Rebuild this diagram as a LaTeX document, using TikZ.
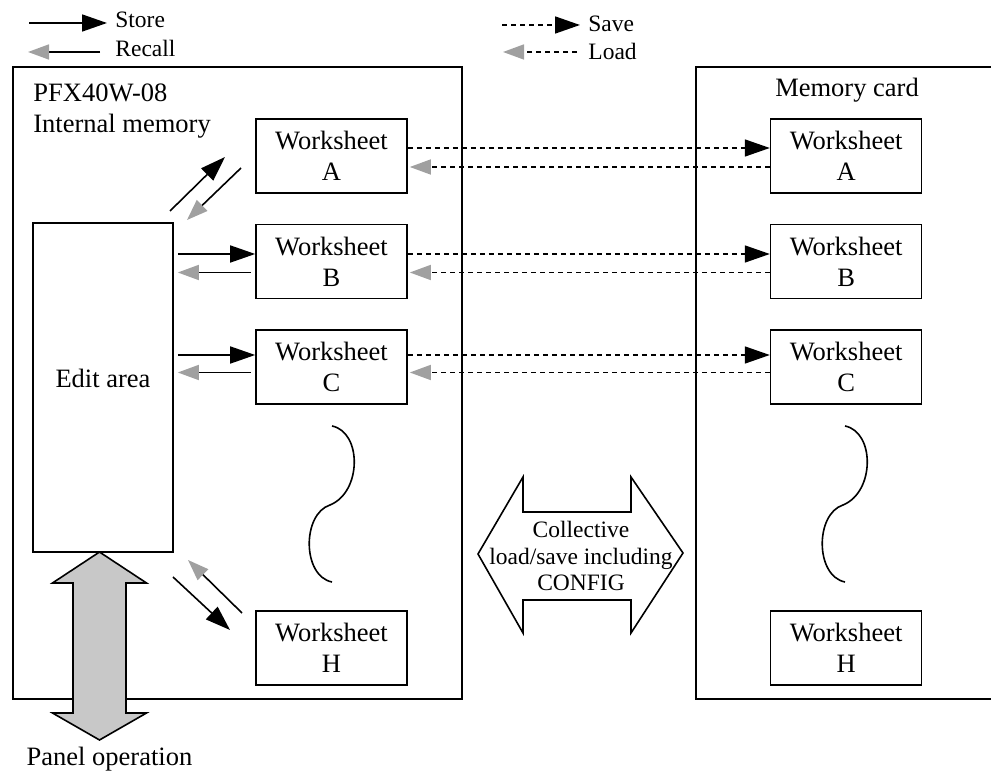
\documentclass[tikz,border=0pt]{standalone}
\usepackage{fontspec}
\setmainfont{Liberation Serif}
\usepackage{tikz}
\usetikzlibrary{positioning,arrows.meta}
\definecolor{stipple}{RGB}{160,160,160}
\definecolor{panelfill}{RGB}{200,200,200}
\def\mainfnt{\fontsize{13.25}{15.5}\selectfont}
\def\keyfnt{\fontsize{11.75}{13.25}\selectfont}
\tikzset{wsbox/.style={rectangle, draw, line width=0.8pt, minimum width=75.5pt,
  minimum height=37pt, inner sep=0pt, align=center, font=\mainfnt}}
\tikzset{editbox/.style={rectangle, draw, line width=0.8pt, minimum width=70pt,
  minimum height=164.5pt}}
\tikzset{outerframe/.style={line width=1.3pt}}
\tikzset{store/.style={-{Triangle[length=12.5pt,width=8.5pt]}, line width=0.8pt}}
\tikzset{recall/.style={-{Triangle[length=10.5pt,width=7.5pt,color=stipple]}, line width=0.8pt}}
\tikzset{save/.style={store, dash pattern=on 2.5pt off 2pt}}
\tikzset{load/.style={recall, dash pattern=on 2.5pt off 2pt}}
\begin{document}
\begin{tikzpicture}[x=0.5pt, y=-0.5pt, font=\mainfnt, node distance=15pt]
  \useasboundingbox (0,0) rectangle (991,774);
  % legend
  \coordinate (keyS) at (29,23);
  \coordinate (keyR) at (28,52);
  \coordinate (keyV) at (502,25);
  \coordinate (keyL) at (503,52);
  \node[font=\keyfnt, anchor=base west, inner sep=0pt] (keystore) at (115,28) {Store};
  \node[font=\keyfnt, anchor=base west, inner sep=0pt] (keyrecall) at (115,57) {Recall};
  \node[font=\keyfnt, anchor=base west, inner sep=0pt] (keysave) at (588,32) {Save};
  \node[font=\keyfnt, anchor=base west, inner sep=0pt] (keyload) at (588,60) {Load};
  \draw[store, shorten >=4pt] (keyS) -- (keyS -| keystore.west);
  \draw[recall, shorten <=7.5pt] (keyR -| keyrecall.west) -- (keyR);
  \draw[save, shorten >=4pt] (keyV) -- (keyV -| keysave.west);
  \draw[load, shorten <=5.5pt] (keyL -| keyload.west) -- (keyL);
  % outer boxes
  \draw[outerframe] (13,67) rectangle (462,699);
  \draw[outerframe] (991,67) -- (696,67) -- (696,699) -- (991,699);
  \node[anchor=north west, align=left, inner sep=0pt] (intmem) at (33,83) {PFX40W-08\\Internal memory};
  \node[anchor=base, inner sep=0pt] (card) at (847,97) {Memory card};
  % worksheets
  \node[wsbox] (wsA) at (331.5,156) {Worksheet\\A};
  \node[wsbox, below=of wsA] (wsB) {Worksheet\\B};
  \node[wsbox, below=of wsB] (wsC) {Worksheet\\C};
  \node[wsbox] (wsH) at (331.5,648) {Worksheet\\H};
  \foreach \w in {A,B,C,H}
    \node[wsbox, right=181pt of ws\w] (card\w) {Worksheet\\\w};
  \node[editbox] (edit) at (103,387.5) {};
  \node[inner sep=0pt] (editlbl) at ([yshift=4.75pt]edit.center) {Edit area};
  % omitted worksheets
  \foreach \cx in {332,845}
    \draw[line width=0.8pt] (\cx,426) .. controls (\cx+30,432) and (\cx+30,492) .. (\cx-2,505)
      .. controls (\cx-30,514) and (\cx-30,576) .. (\cx,582);
  % collective load/save
  \draw[line width=0.8pt] (478,554) -- (523,477) -- (523,512) -- (631,512) -- (631,477)
    -- (683,553) -- (631,633) -- (631,600) -- (523,600) -- (523,633) -- cycle;
  \node[font=\keyfnt, align=center, inner sep=0pt] (collect) at (581,556)
    {Collective\\load/save including\\CONFIG};
  % panel operation
  \draw[line width=0.8pt, fill=panelfill] (99.5,552) -- (146.5,583) -- (126,583) -- (126,713)
    -- (146.5,713) -- (99.5,740) -- (52.5,713) -- (73,713) -- (73,583) -- (52.5,583) -- cycle;
  \node[anchor=base, inner sep=0pt] (panel) at (109.5,765.5) {Panel operation};
  % save / load
  \foreach \w/\s/\l in {A/148/167, B/254/272.5, C/355/372.5} {
    \draw[save] (ws\w.east |- 0,\s) -- (card\w.west |- 0,\s);
    \draw[load, shorten >=1pt] (card\w.west |- 0,\l) -- (ws\w.east |- 0,\l);
  }
  % store / recall
  \foreach \w/\s/\l in {B/254/272.5, C/355/372.5} {
    \draw[store, shorten <=2pt] (edit.east |- 0,\s) -- (ws\w.west |- 0,\s);
    \draw[recall, shorten <=2pt, shorten >=2pt] (ws\w.west |- 0,\l) -- (edit.east |- 0,\l);
  }
  \coordinate (stA0) at (170,211);
  \coordinate (stA1) at (225,157);
  \coordinate (rcA0) at (241,168);
  \coordinate (rcA1) at (187,220);
  \coordinate (stH0) at (173,577);
  \coordinate (stH1) at (230,630);
  \coordinate (rcH0) at (242,613);
  \coordinate (rcH1) at (188,560);
  \draw[store] (stA0) -- (stA1);
  \draw[recall] (rcA0) -- (rcA1);
  \draw[store] (stH0) -- (stH1);
  \draw[recall] (rcH0) -- (rcH1);
\end{tikzpicture}
\end{document}
